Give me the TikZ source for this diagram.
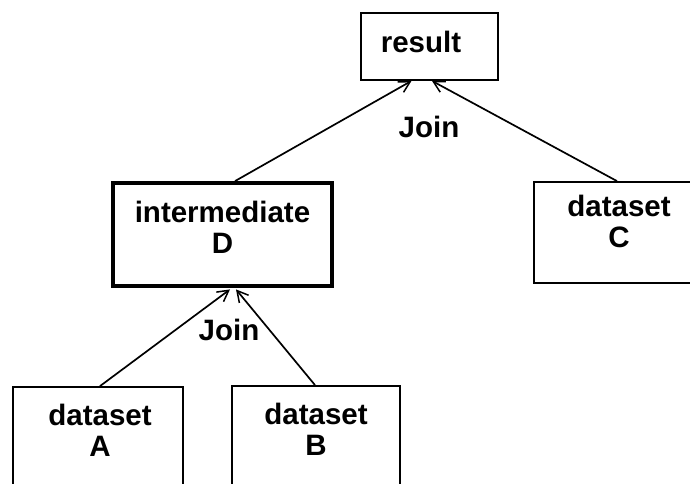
\documentclass[tikz,border=0pt]{standalone}
\usepackage{fontspec}
\setmainfont{Liberation Sans}
\usetikzlibrary{arrows.meta,calc}
\begin{document}
\begin{tikzpicture}[x=1pt,y=-1pt,
  box/.style={draw, rectangle, line width=1.8pt, inner sep=0pt},
  thickbox/.style={box, line width=3.8pt},
  lbl/.style={font=\fontsize{29.5}{31}\selectfont\bfseries, align=center, inner sep=0pt},
  link/.style={line width=1.7pt, -{Straight Barb[length=11pt,width=12pt,line width=1.5pt]}},
]
\useasboundingbox (0,0) rectangle (690,484);
\clip (0,0) rectangle (690,484);

% boxes (A, B and C run past the picture's edge)
\node[box, minimum width=137pt, minimum height=67pt] (R) at (429.5,46.5) {};
\node[thickbox, minimum width=219pt, minimum height=103pt] (D) at (222.5,234.5) {};
\node[box, minimum width=186pt, minimum height=101pt] (C) at (627,232.5) {};
\node[box, minimum width=170pt, minimum height=153pt] (A) at (98,463.5) {};
\node[box, minimum width=168pt, minimum height=154pt] (B) at (316,463) {};

% box texts
\node[lbl, anchor=base] (tR) at (421,53) {result};
\node[lbl] (tD) at (222.5,227) {intermediate\\D};
\node[lbl] (tC) at (619,221) {dataset\\C};
\node[lbl] (tA) at (100,430) {dataset\\A};
\node[lbl] (tB) at (316,429) {dataset\\B};

% operation labels
\node[lbl, anchor=base] (j1) at (429,137) {Join};
\node[lbl, anchor=base] (j2) at (229,340) {Join};

% connector end points
\coordinate (Rl) at ($(R.south)+(-18,0)$);
\coordinate (Rr) at ($(R.south)+(2.5,0)$);
\coordinate (Dt) at ($(D.north)+(12.5,0)$);
\coordinate (Ct) at ($(C.north)+(-10,0)$);
\coordinate (Dl) at ($(D.south)+(7.5,1.5)$);
\coordinate (Dr) at ($(D.south)+(13.5,1.5)$);
\coordinate (At) at ($(A.north)+(2,0)$);
\coordinate (Bt) at ($(B.north)+(-1,0)$);

% connectors
\draw[link] (Dt) -- (Rl);
\draw[link] (Ct) -- (Rr);
\draw[link] (At) -- (Dl);
\draw[link] (Bt) -- (Dr);
\end{tikzpicture}
\end{document}
